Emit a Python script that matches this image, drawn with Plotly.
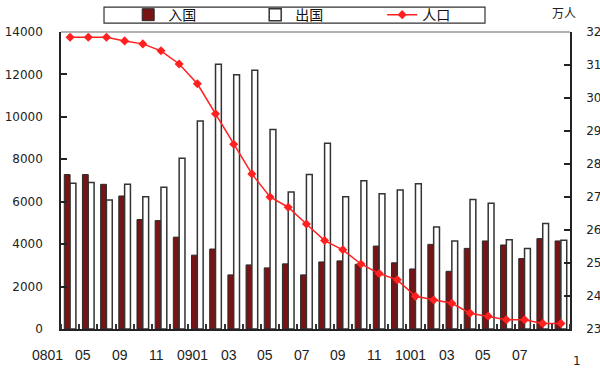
import plotly.graph_objects as go

# Monthly arrivals (入国), departures (出国) and population (人口, 万人)
tick_labels = ["0801", "05", "09", "11", "0901", "03", "05", "07",
               "09", "11", "1001", "03", "05", "07"]

arrivals = [7280, 7280, 6820, 6270, 5160, 5110, 4330, 3480, 3770, 2550,
            3020, 2880, 3070, 2550, 3160, 3210, 3050, 3910, 3120, 2830,
            3990, 2720, 3800, 4150, 3960, 3320, 4260, 4150]

departures = [6870, 6900, 6080, 6820, 6230, 6680, 8050, 9800, 12480, 11990,
              12200, 9400, 6460, 7280, 8760, 6230, 6990, 6380, 6550, 6850,
              4810, 4150, 6110, 5930, 4210, 3800, 4970, 4180]

population = [31.84, 31.84, 31.84, 31.73, 31.64, 31.43, 31.03, 30.43, 29.52,
              28.60, 27.70, 27.00, 26.69, 26.18, 25.68, 25.40, 24.97, 24.68,
              24.49, 23.99, 23.88, 23.78, 23.48, 23.39, 23.28, 23.28, 23.17,
              23.17]

idx = list(range(len(arrivals)))

LAT = "DejaVu Sans"
ARIAL = "Liberation Sans"
CJK = "Noto Sans CJK SC"

fig = go.Figure()
fig.add_trace(go.Bar(
    x=idx, y=arrivals, name="入国",
    marker=dict(color="#781416", line=dict(color="#2b2b2b", width=1)),
))
fig.add_trace(go.Bar(
    x=idx, y=departures, name="出国",
    marker=dict(color="#ffffff", line=dict(color="#333333", width=1.5)),
))
fig.add_trace(go.Scatter(
    x=idx, y=population, name="人口", yaxis="y2", mode="lines+markers",
    line=dict(color="#ff2020", width=1.5),
    marker=dict(symbol="diamond", size=7, color="#ff2020"),
))

# month labels under every second category, set off to the left of the tick
month_labels = [
    dict(text=t, xref="x", yref="paper", x=i, y=-0.088, xshift=-23,
         xanchor="center", yanchor="middle", showarrow=False,
         font=dict(family=ARIAL, size=14, color="#222222"))
    for i, t in zip(idx[::2], tick_labels)
]

fig.update_layout(
    width=600, height=382,
    margin=dict(l=61, r=30, t=32, b=53, autoexpand=False),
    paper_bgcolor="white", plot_bgcolor="white",
    barmode="group", bargap=0.36, bargroupgap=0,
    font=dict(family=LAT, size=12, color="#222222"),
    showlegend=True,
    legend=dict(
        orientation="h", x=0.132, xanchor="left", y=1.057, yanchor="middle",
        entrywidth=82, entrywidthmode="pixels",
        font=dict(family=CJK, size=14, color="#111111"),
        bgcolor="rgba(0,0,0,0)", borderwidth=0,
        itemwidth=30, tracegroupgap=0,
    ),
    xaxis=dict(
        range=[-0.5, len(idx) - 0.5],
        showticklabels=False,
        ticks="",
        showline=True, linecolor="#222222", linewidth=2,
        showgrid=False, zeroline=False,
        minor=dict(tick0=0.5, dtick=1, ticks="inside", ticklen=5,
                   tickcolor="#333333", tickwidth=1.5, showgrid=False),
    ),
    yaxis=dict(
        range=[0, 14000], dtick=2000, tickformat="d",
        ticks="inside", ticklen=6, tickcolor="#222222", tickwidth=1.5,
        showline=True, linecolor="#222222", linewidth=1.5,
        showgrid=False, zeroline=False,
        ticklabelstandoff=14,
        tickfont=dict(family=LAT, size=12, color="#222222"),
    ),
    yaxis2=dict(
        range=[23, 32], dtick=1, overlaying="y", side="right",
        ticks="inside", ticklen=6, tickcolor="#222222", tickwidth=1.5,
        showline=True, linecolor="#222222", linewidth=1.5,
        showgrid=False, zeroline=False,
        ticklabelstandoff=12,
        tickfont=dict(family=LAT, size=12, color="#222222"),
    ),
    shapes=[
        # grey top border of the plot area
        dict(type="line", xref="paper", yref="paper", x0=0, x1=1, y0=1, y1=1,
             line=dict(color="#9a9a9a", width=1.5)),
        # legend frame
        dict(type="rect", xref="paper", yref="paper",
             x0=0.0845, x1=0.833, y0=1.030, y1=1.084,
             line=dict(color="#333333", width=1.2), fillcolor="rgba(0,0,0,0)"),
    ],
    annotations=month_labels + [
        dict(text="万人", xref="paper", yref="paper", x=0.989, y=1.064,
             xanchor="center", yanchor="middle", showarrow=False,
             font=dict(family=CJK, size=12, color="#222222")),
        dict(text="1", xref="paper", yref="paper", x=1.0138, y=-0.108,
             xanchor="center", yanchor="middle", showarrow=False,
             font=dict(family=LAT, size=12, color="#222222")),
    ],
)

fig.write_html("out.html")
